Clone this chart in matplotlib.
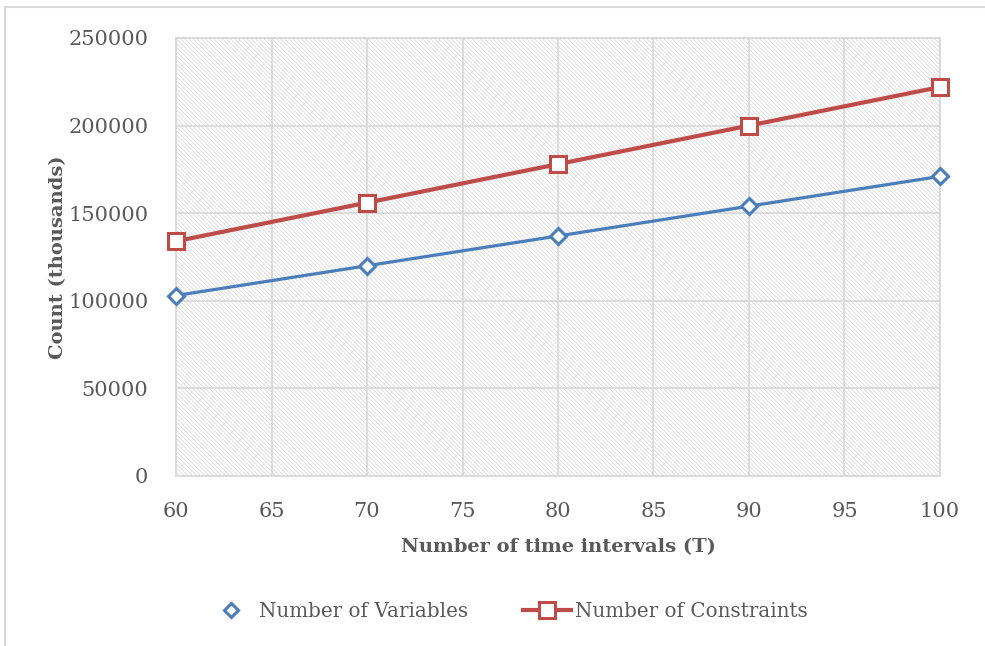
import matplotlib.pyplot as plt
from matplotlib.lines import Line2D

# Tamanho do modelo em função do número de intervalos de tempo
intervals = [60, 70, 80, 90, 100]
n_variables = [103000, 120000, 137000, 154000, 171000]
n_constraints = [134000, 156000, 178000, 200000, 222000]

x_ticks = [60, 65, 70, 75, 80, 85, 90, 95, 100]
y_ticks = [0, 50000, 100000, 150000, 200000, 250000]

blue = '#4a7ebb'
red = '#be4b48'
grey_text = '#595959'
grid_grey = '#d9d9d9'

plt.rcParams['font.family'] = ['DejaVu Serif']
plt.rcParams['hatch.color'] = '#dadada'
plt.rcParams['hatch.linewidth'] = 0.6

fig = plt.figure(figsize=(9.85, 6.46), dpi=100)
ax = fig.add_axes([0.1787, 0.2632, 0.7756, 0.678])

# Fundo hachurado da área do gráfico
ax.fill_between([60, 100], 0, 250000, facecolor='white',
                hatch='\\' * 8, edgecolor='#dadada', linewidth=0, zorder=0)

ax.plot(intervals, n_variables, color=blue, linewidth=2.3,
        marker='D', markersize=8, markerfacecolor='white',
        markeredgecolor=blue, markeredgewidth=2.2, zorder=3, clip_on=False)
ax.plot(intervals, n_constraints, color=red, linewidth=3.0,
        marker='s', markersize=11, markerfacecolor='white',
        markeredgecolor=red, markeredgewidth=2.2, zorder=3, clip_on=False)

ax.set_xlim(60, 100)
ax.set_ylim(0, 250000)
ax.set_xticks(x_ticks)
ax.set_yticks(y_ticks)
ax.grid(True, color=grid_grey, linewidth=1.3, zorder=1)
ax.set_axisbelow(True)
ax.tick_params(axis='both', length=0, labelsize=15, labelcolor=grey_text)
ax.tick_params(axis='x', pad=19)
ax.tick_params(axis='y', pad=20)
for s in ax.spines.values():
    s.set_color(grid_grey)
    s.set_linewidth(1.3)

ax.set_xlabel('Number of time intervals (T)', fontsize=14, fontweight='bold',
              color=grey_text, labelpad=12)
ax.set_ylabel('Count (thousands)', fontsize=14, fontweight='bold',
              color=grey_text, labelpad=1)

# Legenda: variáveis só com o marcador, restrições com linha
handles = [
    Line2D([], [], linestyle='none', marker='D', markersize=7,
           markerfacecolor='white', markeredgecolor=blue, markeredgewidth=2.2),
    Line2D([], [], color=red, linewidth=3.0, marker='s', markersize=11,
           markerfacecolor='white', markeredgecolor=red, markeredgewidth=2.2),
]
fig.legend(handles, ['Number of Variables', 'Number of Constraints'],
           loc='center', bbox_to_anchor=(0.515, 0.054), ncol=2, frameon=False,
           fontsize=14.3, labelcolor=grey_text, handlelength=2.4,
           handletextpad=0.2, columnspacing=2.8)

# Borda da área do gráfico
fig.add_artist(Line2D([0.0055, 0.0055], [0, 0.989], color=grid_grey,
                      linewidth=1.5, transform=fig.transFigure))
fig.add_artist(Line2D([0.0055, 1], [0.989, 0.989], color=grid_grey,
                      linewidth=1.5, transform=fig.transFigure))

fig.savefig('out.png', dpi=100)
